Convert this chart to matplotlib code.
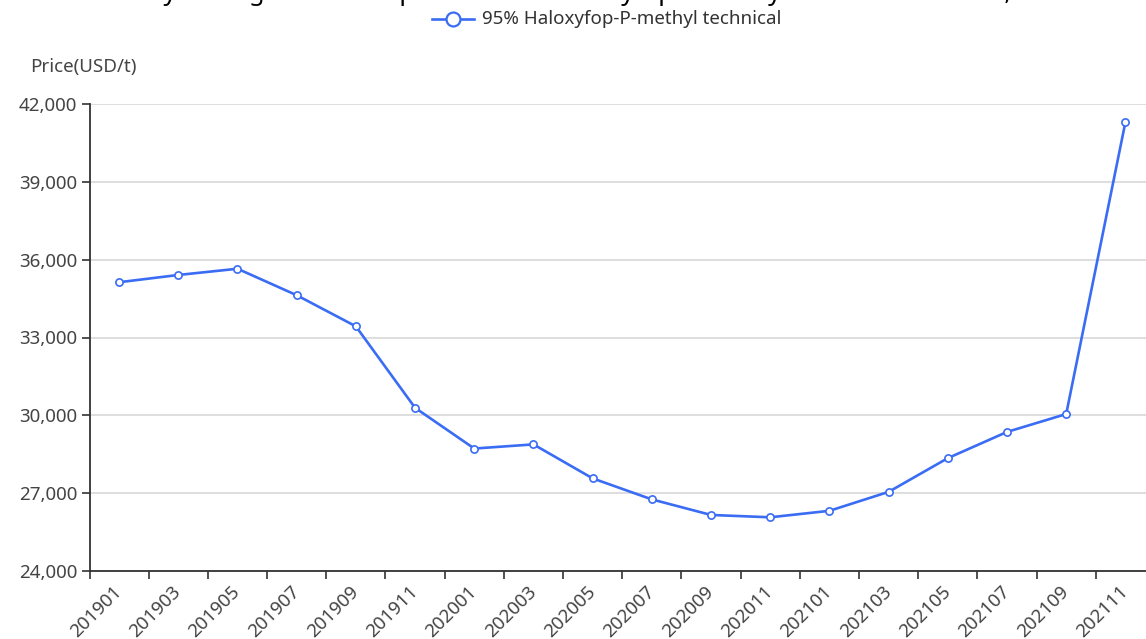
import matplotlib
matplotlib.use("Agg")
import matplotlib.pyplot as plt
from matplotlib.lines import Line2D
from matplotlib.ticker import FuncFormatter, FixedLocator

# ---- data ----
months = ["201901", "201903", "201905", "201907", "201909", "201911",
          "202001", "202003", "202005", "202007", "202009", "202011",
          "202101", "202103", "202105", "202107", "202109", "202111"]
prices = [35130, 35410, 35650, 34630, 33430, 30290,
          28720, 28880, 27570, 26760, 26160, 26070,
          26320, 27050, 28350, 29360, 30050, 41300]
series_name = "95% Haloxyfop-P-methyl technical"
y_label = "Price(USD/t)"
title = "Monthly average ex-works price of 95% Haloxyfop-P-methyl technical in China, 2019-2021"
y_ticks = [24000, 27000, 30000, 33000, 36000, 39000, 42000]

W, H = 1146, 639
plt.rcParams['font.family'] = ['Noto Sans', 'DejaVu Sans']
fig = plt.figure(figsize=(W / 100, H / 100), dpi=100)
fig.patch.set_facecolor('white')

left_px, right_px = 89.5, 1155.0
top_px, bot_px = 104.0, 571.0
ax = fig.add_axes([left_px / W, 1 - bot_px / H,
                   (right_px - left_px) / W, (bot_px - top_px) / H])

blue = '#3a6cf4'
txt = '#444444'
x = list(range(len(months)))
ax.plot(x, prices, color=blue, lw=1.9, marker='o', ms=5.2,
        mfc='white', mec=blue, mew=1.2, zorder=3, clip_on=False)

ax.set_xlim(-0.5, len(months) - 0.5)
ax.set_ylim(y_ticks[0], y_ticks[-1])
ax.set_yticks(y_ticks)
ax.yaxis.set_major_formatter(FuncFormatter(lambda v, p: f"{int(v):,}"))
ax.grid(axis='y', color='#d4d4d4', lw=1.1)
ax.set_axisbelow(True)

# x axis: ticks on band boundaries, labels on band centres
ax.xaxis.set_major_locator(FixedLocator([i - 0.5 for i in range(len(months) + 1)]))
ax.xaxis.set_major_formatter(FuncFormatter(lambda v, p: ""))
ax.xaxis.set_minor_locator(FixedLocator(x))
ax.set_xticklabels(months, minor=True)
ax.tick_params(axis='x', which='major', length=6, width=1.2, color='#333333', direction='out')
ax.tick_params(axis='x', which='minor', length=0, pad=13, labelsize=13.5, labelcolor=txt)
for lab in ax.get_xticklabels(minor=True):
    lab.set_rotation(45)
    lab.set_ha('right')
    lab.set_va('center')
    lab.set_rotation_mode('anchor')
ax.tick_params(axis='y', length=6, width=1.2, color='#333333', labelsize=13.5,
               labelcolor=txt, pad=3)

for s in ['top', 'right']:
    ax.spines[s].set_visible(False)
for s in ['left', 'bottom']:
    ax.spines[s].set_color('#333333')
    ax.spines[s].set_linewidth(1.3)

fig.text(30 / W, 1 - 67 / H, y_label, fontsize=13.5, color=txt, ha='left', va='center')

# legend
yc = 1 - 19 / H
fig.add_artist(Line2D([432 / W, 474 / W], [yc, yc], transform=fig.transFigure,
                      color=blue, lw=1.9))
fig.add_artist(Line2D([453 / W], [yc], transform=fig.transFigure, marker='o', ms=10,
                      mfc='white', mec=blue, mew=1.6, lw=0))
fig.text(482 / W, yc, series_name, fontsize=13.5, color='#333333', ha='left', va='center')

# cropped title at very top (only descenders visible)
fig.canvas.draw()
r = fig.canvas.get_renderer()
def width(s, **kw):
    t = fig.text(0, 0, s, **kw)
    w = t.get_window_extent(r).width
    t.remove()
    return w
tkw = dict(fontsize=15, fontweight='bold')
span = width("y average ex-works price of 95% Haloxyfop-P-methyl technical in China", **tkw)
fs = 15 * 845 / span
tkw['fontsize'] = fs
pre = width("Monthl", **tkw)
fig.text((164 - pre) / W, 1 + 0.5 / H, title, color='black', ha='left', va='baseline', **tkw)

fig.savefig("out.png", dpi=100, facecolor='white')
